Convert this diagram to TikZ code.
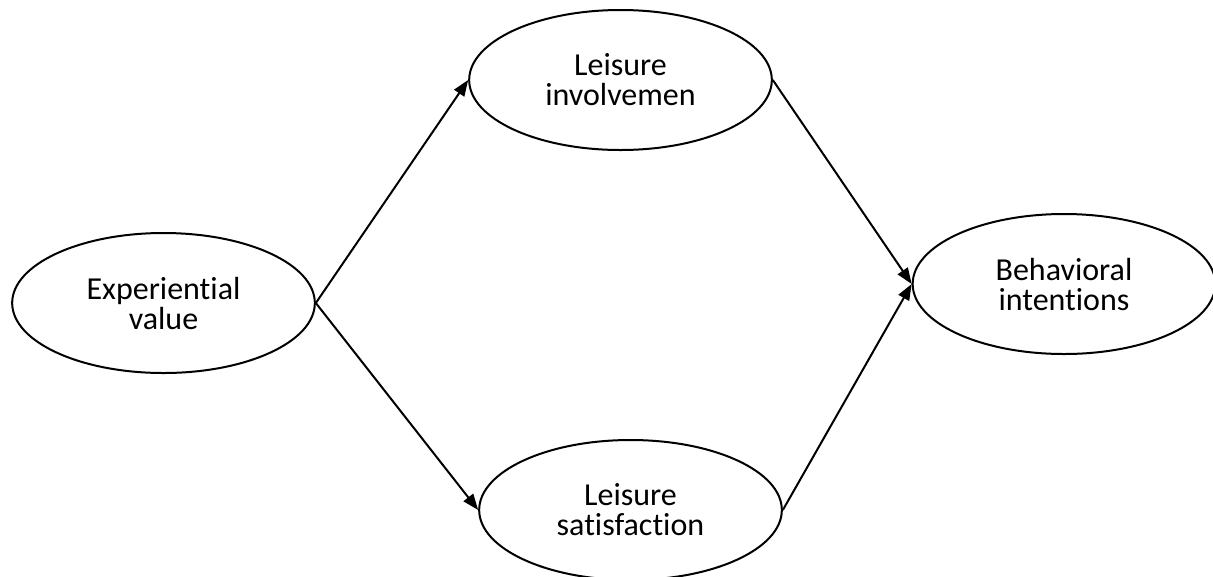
\documentclass[tikz,border=0pt]{standalone}
\usepackage{fontspec}
\setmainfont[Ligatures = NoCommon]{Carlito}
\usetikzlibrary{shapes.geometric, arrows.meta}

\begin{document}
\begin{tikzpicture}[x=0.75pt, y=-0.75pt,
		construct/.style = {ellipse, draw, line width = 1.5pt, minimum width = 227pt, minimum height = 105pt, inner sep = 0pt, align = center, font = \fontsize{24}{22.5}\selectfont},
		path/.style = {line width = 1.5pt, -{Triangle[length = 12pt, width = 9pt]}}]
		\def\rowmid{303};
		
		\useasboundingbox (0,0) rectangle (1213,576);
		
		\node [construct] (experiential) at (163.5,\rowmid) {Experiential\\value};
		\node [construct] (involvement) at (620.5,80) {Leisure\\involvemen};
		\node [construct] (satisfaction) at (630.5,510) {Leisure\\satisfaction};
		\node [construct] (intentions) at (1064,284) {Behavioral\\intentions};
		
		\draw [path] (experiential.east) -- (involvement.west);
		\draw [path] (experiential.east) -- (satisfaction.west);
		\draw [path] (involvement.east) -- (intentions.west);
		\draw [path] (satisfaction.east) -- (intentions.west);
	\end{tikzpicture}
\end{document}
